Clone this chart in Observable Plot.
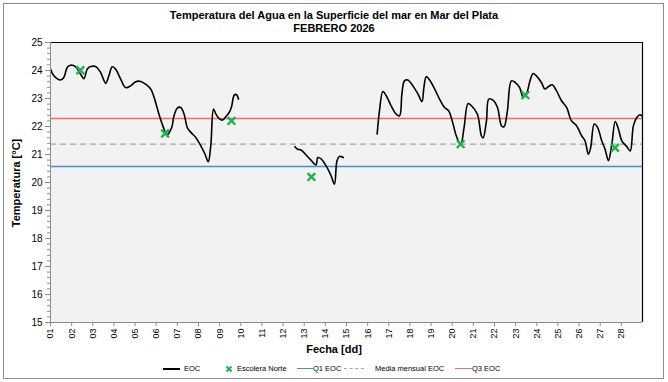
<!DOCTYPE html>
<html><head><meta charset="utf-8">
<script src="https://cdn.jsdelivr.net/npm/d3@7"></script>
<script src="https://cdn.jsdelivr.net/npm/@observablehq/plot@0.6"></script>
<style>
body{margin:0;background:#fff;font-family:"Liberation Sans",Arial,sans-serif;}
#wrap{position:relative;width:668px;height:382px;overflow:hidden;background:#fff}
#frame{position:absolute;left:3px;top:3px;width:659px;height:374px;border:1px solid #8c8c8c;pointer-events:none}
#chart{position:absolute;left:0;top:0}
.title{position:absolute;left:0;width:668px;text-align:center;font-weight:bold;font-size:11px;color:#000;line-height:12px}
.lab{position:absolute;font-weight:bold;font-size:11px;color:#000;white-space:nowrap}
.lg{position:absolute;font-size:7.5px;color:#000;white-space:nowrap;top:364px;line-height:10px}
.ln{position:absolute;top:368px;height:0}
</style></head>
<body>
<div id="wrap">
  <div id="chart"></div>
  <div class="title" style="top:9px">Temperatura del Agua en la Superficie del mar en Mar del Plata</div>
  <div class="title" style="top:22px">FEBRERO 2026</div>
  <div class="lab" style="left:334px;top:343px;transform:translateX(-50%)">Fecha [dd]</div>
  <div class="lab" style="left:16px;top:183px;transform:translate(-50%,-50%) rotate(-90deg)">Temperatura [°C]</div>
  <div id="legend"></div>
  <div id="frame"></div>
</div>
<script>
// EOC series (day of month, °C); null marks a gap in the record
const eocDay = [
  1.00,1.16,1.47,1.63,1.79,1.95,2.18,2.42,2.58,2.74,2.90,3.13,3.37,3.61,3.76,3.92,4.08,4.32,4.55,4.79,
  5.03,5.27,5.50,5.74,5.90,6.13,6.37,6.50,6.73,6.84,7.00,7.16,7.32,7.47,7.64,7.87,8.11,8.31,8.46,8.58,
  8.71,8.82,8.98,9.14,9.30,9.45,9.56,9.69,9.79,9.89,
  11.0,
  12.56,12.69,12.85,13.09,13.32,13.56,13.64,13.80,14.03,14.27,14.43,14.55,14.66,14.85,
  15.5,
  16.45,16.56,16.72,16.88,17.11,17.35,17.51,17.62,17.74,17.90,18.14,18.38,18.57,18.66,18.77,18.93,
  19.17,19.40,19.64,19.83,20.04,20.19,20.40,20.56,20.75,20.91,21.19,21.38,21.46,21.62,21.73,21.93,
  22.14,22.33,22.45,22.61,22.80,22.99,23.19,23.35,23.51,23.67,23.83,23.98,24.22,24.38,24.54,24.73,
  24.93,25.17,25.41,25.64,25.88,26.12,26.28,26.44,26.55,26.72,26.88,27.07,27.23,27.39,27.55,27.71,
  27.86,28.02,28.26,28.42,28.57,28.73,28.89,29.05
];
const eocTemp = [
  24.05,23.81,23.66,23.75,24.11,24.19,24.14,23.87,23.71,24.05,24.14,24.14,23.93,23.54,23.81,24.13,24.05,23.69,23.39,23.45,
  23.60,23.61,23.51,23.34,23.04,22.44,21.91,21.70,21.96,22.38,22.66,22.68,22.44,21.96,21.79,21.61,21.31,21.01,20.74,21.31,
  22.62,22.45,22.28,22.23,22.36,22.50,22.70,23.12,23.14,22.98,
  null,
  21.28,21.19,21.16,20.98,20.80,20.63,20.89,20.84,20.60,20.24,19.94,20.78,20.93,20.89,
  null,
  21.73,22.56,23.25,23.10,22.74,22.44,22.38,23.16,23.63,23.66,23.45,23.16,22.89,23.39,23.78,23.66,
  23.34,22.98,22.68,22.56,22.09,21.67,21.35,21.96,22.82,22.74,22.44,21.67,21.59,22.20,22.98,22.94,
  22.68,22.03,21.99,22.56,23.63,23.57,23.39,23.06,23.16,23.61,23.89,23.81,23.57,23.34,23.42,23.49,
  23.28,22.92,22.68,22.20,22.03,21.67,21.49,21.01,21.25,22.09,21.96,21.49,21.19,20.78,21.37,22.18,
  21.91,21.49,21.28,21.13,22.03,22.32,22.42,22.30
];
// Escolera Norte samples
const esDay  = [2.41, 6.42, 9.56, 13.34, 20.40, 23.46, 27.70];
const esTemp = [24.01, 21.75, 22.20, 20.20, 21.37, 23.12, 21.24];
// Monthly statistics of EOC
const q1 = 20.57, media = 21.37, q3 = 22.29;
// Axis ticks
const xTicks = d3.range(1, 29);
const yTicks = d3.range(15, 26);
const yMinor = d3.range(15, 25.001, 0.2).map(v => +v.toFixed(1));

const eoc = eocDay.map((d, i) => ({day: d, temp: eocTemp[i]}));
const es = esDay.map((d, i) => ({day: d, temp: esTemp[i]}));

const colors = {eoc: "#000000", es: "#1db24d", q1: "#4a8fd0", media: "#a6a6a6", q3: "#f26b6b"};

const chart = Plot.plot({
  width: 668, height: 382,
  marginTop: 42, marginBottom: 60, marginLeft: 50, marginRight: 26,
  style: {background: "transparent", fontFamily: "'Liberation Sans', Arial, sans-serif", fontSize: "10px", overflow: "visible"},
  x: {domain: [1, 29]},
  y: {domain: [15, 25]},
  marks: [
    Plot.frame({fill: "#f2f2f2", stroke: "none"}),
    Plot.ruleY([q1], {stroke: colors.q1, strokeWidth: 1.5}),
    Plot.ruleY([media], {stroke: colors.media, strokeWidth: 1.2, strokeDasharray: "6,4"}),
    Plot.ruleY([q3], {stroke: colors.q3, strokeWidth: 1.5}),
    Plot.line(eoc, {x: "day", y: "temp", curve: "catmull-rom", stroke: colors.eoc, strokeWidth: 1.6, clip: true}),
    Plot.dot(es, {x: "day", y: "temp", symbol: "times", stroke: colors.es, strokeWidth: 2.4, r: 3.6}),
    Plot.ruleX([29], {stroke: "#000", strokeWidth: 1.2}),
    Plot.ruleY([25], {stroke: "#000", strokeWidth: 1.2}),
    Plot.ruleX([1], {stroke: "#8c8c8c"}),
    Plot.ruleY([15], {stroke: "#8c8c8c"}),
    Plot.axisY({ticks: yTicks, tickSize: 5, tickPadding: 3, fontSize: 10, label: null, stroke: "#8c8c8c"}),
    Plot.axisY({ticks: yMinor, tickSize: 3, text: null, label: null, stroke: "#8c8c8c"}),
    Plot.axisX({ticks: xTicks, tickFormat: d => String(d).padStart(2, "0"), tickRotate: -90, tickSize: 4, tickPadding: 2, fontSize: 9, label: null, stroke: "#8c8c8c"})
  ]
});
document.getElementById("chart").appendChild(chart);

// Legend
const legendItems = [
  {kind: "line", color: colors.eoc, w: 2, x: 163, len: 17, text: "EOC", tx: 184},
  {kind: "x", color: colors.es, x: 229, text: "Escolera Norte", tx: 237},
  {kind: "line", color: colors.q1, w: 1.5, x: 297, len: 16, text: "Q1  EOC", tx: 313},
  {kind: "dash", color: colors.media, w: 1.5, x: 344, len: 20, text: "Media mensual EOC", tx: 375},
  {kind: "line", color: colors.q3, w: 1.5, x: 455, len: 17, text: "Q3  EOC", tx: 472}
];
const lg = document.getElementById("legend");
for (const it of legendItems) {
  if (it.kind === "x") {
    const s = document.createElementNS("http://www.w3.org/2000/svg", "svg");
    s.setAttribute("width", 8); s.setAttribute("height", 8);
    s.style.position = "absolute"; s.style.left = (it.x - 4) + "px"; s.style.top = "365px";
    s.innerHTML = `<path d="M1.5,1.5L6.5,6.5M6.5,1.5L1.5,6.5" stroke="${it.color}" stroke-width="2"/>`;
    lg.appendChild(s);
  } else {
    const d = document.createElement("div");
    d.className = "ln";
    d.style.left = it.x + "px"; d.style.width = it.len + "px";
    d.style.borderTop = `${it.w}px ${it.kind === "dash" ? "dashed" : "solid"} ${it.color}`;
    lg.appendChild(d);
  }
  const t = document.createElement("div");
  t.className = "lg"; t.style.left = it.tx + "px"; t.textContent = it.text;
  lg.appendChild(t);
}
</script>
</body></html>
